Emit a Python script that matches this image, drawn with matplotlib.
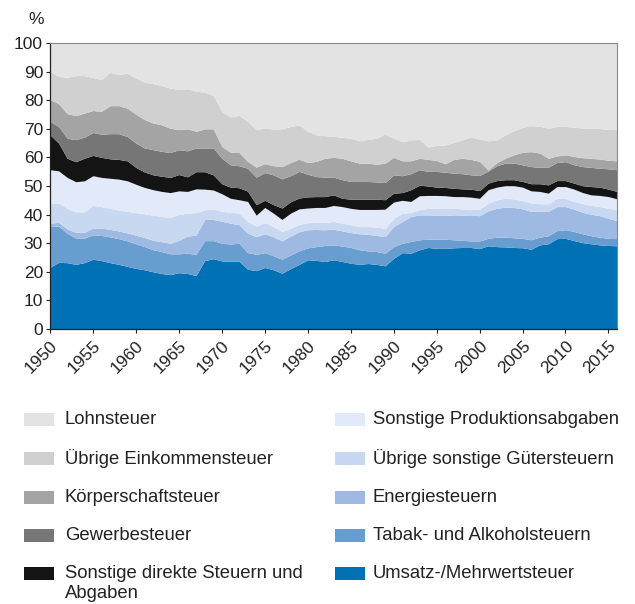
import matplotlib
matplotlib.use("Agg")
import matplotlib.pyplot as plt
from matplotlib.patches import Rectangle

plt.rcParams["font.family"] = ["Liberation Sans", "DejaVu Sans"]

years = list(range(1950, 2017))

# cumulative upper boundary of each layer (percent), bottom layer first
top_umsatz = [
    21.6, 23.3, 23.2, 22.6, 23.2, 24.4, 23.9, 23.2, 22.6, 21.9,
    21.2, 20.7, 20.0, 19.4, 19.0, 19.7, 19.4, 18.7, 23.9, 24.6,
    23.8, 23.7, 23.7, 20.9, 20.4, 21.5, 20.7, 19.5, 21.1, 22.6,
    24.2, 24.0, 23.6, 24.2, 23.6, 23.0, 22.6, 22.9, 22.6, 22.1,
    24.7, 26.7, 26.5, 27.7, 28.5, 28.2, 28.2, 28.4, 28.5, 28.5,
    28.1, 29.1, 28.8, 28.7, 28.5, 28.4, 27.9, 29.4, 29.8, 31.6,
    31.7, 30.9, 30.2, 29.8, 29.4, 29.2, 29.1,
]
top_tabak = [
    35.8, 36.0, 33.5, 31.8, 31.8, 32.9, 32.7, 32.2, 31.6, 30.8,
    29.8, 28.8, 27.7, 27.1, 26.3, 26.3, 26.5, 26.1, 30.9, 30.9,
    30.0, 29.7, 30.0, 26.7, 26.1, 26.7, 25.6, 24.4, 25.9, 27.3,
    28.4, 28.8, 29.2, 29.4, 29.0, 28.5, 27.7, 27.3, 27.1, 26.5,
    28.8, 30.0, 30.6, 31.2, 31.4, 31.4, 31.4, 31.2, 31.0, 30.8,
    30.8, 31.7, 32.1, 32.1, 31.9, 31.7, 31.2, 32.1, 32.6, 34.4,
    34.7, 34.1, 33.3, 32.6, 32.1, 31.7, 31.6,
]
top_energie = [
    37.0, 37.3, 35.0, 33.8, 33.8, 35.3, 35.3, 34.8, 34.3, 33.6,
    32.8, 32.0, 31.0, 30.5, 30.0, 31.0, 32.5, 32.8, 38.3, 38.3,
    37.7, 37.0, 36.5, 33.5, 32.3, 33.3, 32.2, 30.8, 32.5, 34.0,
    34.7, 34.8, 34.7, 34.9, 34.3, 33.7, 33.3, 33.1, 32.7, 32.3,
    35.8, 37.6, 39.3, 39.9, 39.9, 39.8, 39.7, 39.9, 39.8, 39.9,
    39.6, 41.3, 42.2, 42.6, 42.5, 42.0, 41.1, 41.1, 41.1, 42.8,
    42.8, 41.9, 40.8, 40.1, 39.6, 38.7, 37.9,
]
top_gueter = [
    43.8, 44.0, 42.2, 41.0, 41.0, 43.2, 42.8, 42.2, 41.6, 41.1,
    40.7, 40.3, 39.8, 39.3, 39.0, 40.1, 40.5, 40.7, 41.7, 42.0,
    41.1, 40.8, 40.5, 37.6, 36.0, 37.2, 35.8, 34.1, 35.2, 36.6,
    37.2, 37.3, 37.3, 37.6, 37.0, 36.4, 35.8, 35.8, 35.6, 35.2,
    38.7, 40.5, 40.7, 41.7, 42.2, 42.2, 42.2, 42.2, 42.0, 41.9,
    41.9, 44.0, 45.2, 45.7, 45.5, 44.9, 44.0, 43.8, 43.8, 45.7,
    45.7, 44.6, 43.8, 43.2, 42.8, 42.2, 41.7,
]
top_produktion = [
    55.7, 55.3, 53.0, 51.5, 51.8, 53.6, 53.0, 52.7, 52.4, 51.8,
    50.6, 49.5, 48.7, 48.1, 47.7, 48.3, 48.1, 49.0, 48.9, 48.6,
    47.3, 45.7, 45.2, 44.6, 39.8, 42.5, 40.5, 38.3, 40.5, 42.0,
    42.3, 42.5, 42.5, 43.2, 42.8, 42.2, 41.8, 41.8, 41.8, 41.9,
    44.4, 45.0, 44.6, 46.6, 46.7, 46.7, 46.6, 46.3, 46.3, 46.1,
    45.7, 48.7, 49.6, 50.1, 50.1, 49.6, 48.3, 48.1, 47.5, 49.8,
    49.8, 48.9, 47.7, 46.9, 46.7, 46.3, 45.5,
]
top_direkt = [
    67.9, 65.0, 59.7, 58.5, 59.7, 60.7, 60.0, 59.5, 59.3, 58.8,
    56.5, 54.9, 53.9, 53.4, 53.0, 54.0, 53.2, 55.0, 55.0, 53.9,
    50.8, 49.6, 49.4, 48.2, 43.5, 45.0, 43.5, 42.3, 44.5, 45.8,
    46.2, 46.3, 46.3, 46.9, 45.7, 45.4, 45.4, 45.4, 45.4, 45.2,
    47.5, 47.7, 48.7, 50.3, 50.0, 49.6, 49.5, 49.2, 49.0, 48.9,
    48.4, 51.0, 51.9, 52.2, 52.2, 51.6, 50.8, 50.8, 50.4, 51.9,
    51.9, 51.0, 50.1, 49.8, 49.6, 48.9, 48.1,
]
top_gewerbe = [
    72.6, 70.8, 66.7, 66.2, 67.1, 68.7, 68.1, 68.3, 68.3, 67.3,
    65.0, 63.3, 62.7, 62.1, 61.7, 62.7, 62.3, 63.3, 63.3, 63.3,
    59.7, 57.4, 57.1, 56.2, 53.1, 54.7, 53.9, 52.5, 53.6, 55.1,
    54.1, 53.3, 53.1, 53.1, 52.2, 51.6, 51.6, 51.6, 51.4, 51.2,
    53.9, 53.6, 54.3, 55.7, 55.1, 55.1, 54.8, 54.5, 54.3, 53.9,
    53.7, 55.2, 57.1, 58.0, 58.0, 57.4, 56.8, 56.5, 56.6, 58.2,
    58.5, 57.4, 56.8, 56.5, 56.2, 56.0, 55.7,
]
top_koerperschaft = [
    80.2, 78.8, 75.3, 74.6, 75.5, 76.4, 76.1, 78.1, 78.1, 77.2,
    75.1, 73.2, 72.0, 71.4, 70.2, 69.7, 70.0, 69.1, 70.0, 70.0,
    63.8, 61.8, 61.7, 58.6, 56.6, 57.8, 57.1, 56.8, 58.2, 59.4,
    58.2, 58.6, 59.7, 60.0, 59.7, 58.8, 58.0, 58.0, 57.6, 58.0,
    60.0, 58.8, 58.8, 59.7, 59.3, 58.9, 57.8, 59.3, 59.7, 59.3,
    58.6, 55.6, 58.2, 59.7, 60.9, 61.8, 62.0, 61.5, 59.7, 60.5,
    60.9, 60.3, 59.9, 59.7, 59.4, 59.0, 58.8,
]
top_einkommen = [
    90.1, 88.3, 88.0, 88.6, 88.6, 87.9, 87.2, 89.7, 88.9, 89.5,
    87.7, 86.3, 85.8, 85.1, 84.2, 83.7, 84.0, 83.1, 82.8, 81.7,
    76.1, 74.1, 74.7, 72.6, 69.7, 70.3, 69.9, 70.0, 70.8, 71.4,
    69.1, 67.9, 67.6, 67.4, 67.0, 66.7, 65.8, 66.3, 66.7, 68.1,
    66.7, 65.5, 66.1, 66.3, 63.6, 64.2, 64.4, 65.2, 66.2, 67.2,
    66.4, 65.8, 66.1, 67.9, 69.4, 70.5, 71.1, 70.9, 70.2, 70.8,
    70.8, 70.6, 70.2, 70.2, 70.1, 69.8, 69.8,
]
top_lohn = [100.0] * len(years)

labels = [
    "Umsatz-/Mehrwertsteuer",
    "Tabak- und Alkoholsteuern",
    "Energiesteuern",
    "Übrige sonstige Gütersteuern",
    "Sonstige Produktionsabgaben",
    "Sonstige direkte Steuern und\nAbgaben",
    "Gewerbesteuer",
    "Körperschaftsteuer",
    "Übrige Einkommensteuer",
    "Lohnsteuer",
]
tops = [top_umsatz, top_tabak, top_energie, top_gueter, top_produktion,
        top_direkt, top_gewerbe, top_koerperschaft, top_einkommen, top_lohn]
colors = ["#0071b5", "#689dd0", "#9ebae2", "#c9d8f1", "#e2e9f8",
          "#141414", "#767676", "#a3a4a3", "#cfd0cf", "#e3e3e3"]

W, H = 635, 604
fig = plt.figure(figsize=(W / 100, H / 100), dpi=100)
ax = fig.add_axes([50 / W, 1 - 329 / H, 567 / W, 286 / H])

lower = [0.0] * len(years)
for top, color in zip(tops, colors):
    ax.fill_between(years, lower, top, color=color, linewidth=0)
    lower = top

ax.set_xlim(1950, 2016)
ax.set_ylim(0, 100)
ax.set_yticks(range(0, 101, 10))
ax.set_xticks(range(1950, 2016, 5))
ax.tick_params(axis="both", labelsize=12.5, length=3, width=0.8, colors="#222222")
ax.tick_params(axis="y", pad=2)
plt.setp(ax.get_xticklabels(), rotation=45, ha="right", va="top", rotation_mode="anchor")
for side in ["left", "bottom"]:
    ax.spines[side].set_color("#222222")
    ax.spines[side].set_linewidth(0.9)
for side in ["top", "right"]:
    ax.spines[side].set_color("#888888")
    ax.spines[side].set_linewidth(0.8)
fig.text(28 / W, 1 - 20 / H, "%", fontsize=12.5, va="center", ha="left", color="#222222")

# legend, two columns
left_col = [9, 8, 7, 6, 5]
right_col = [4, 3, 2, 1, 0]
row_y = [419, 458, 497, 535, 573]
for col, sq_x, txt_x in [(left_col, 24, 65), (right_col, 335, 373)]:
    for i, y in zip(col, row_y):
        fig.patches.append(Rectangle((sq_x / W, 1 - (y + 6.5) / H), 30 / W, 13 / H,
                                     transform=fig.transFigure, color=colors[i], linewidth=0))
        for j, line in enumerate(labels[i].split("\n")):
            fig.text(txt_x / W, 1 - (y + 21 * j) / H, line, fontsize=13.3,
                     va="center", ha="left", color="#222222")

fig.savefig("out.png", dpi=100)
